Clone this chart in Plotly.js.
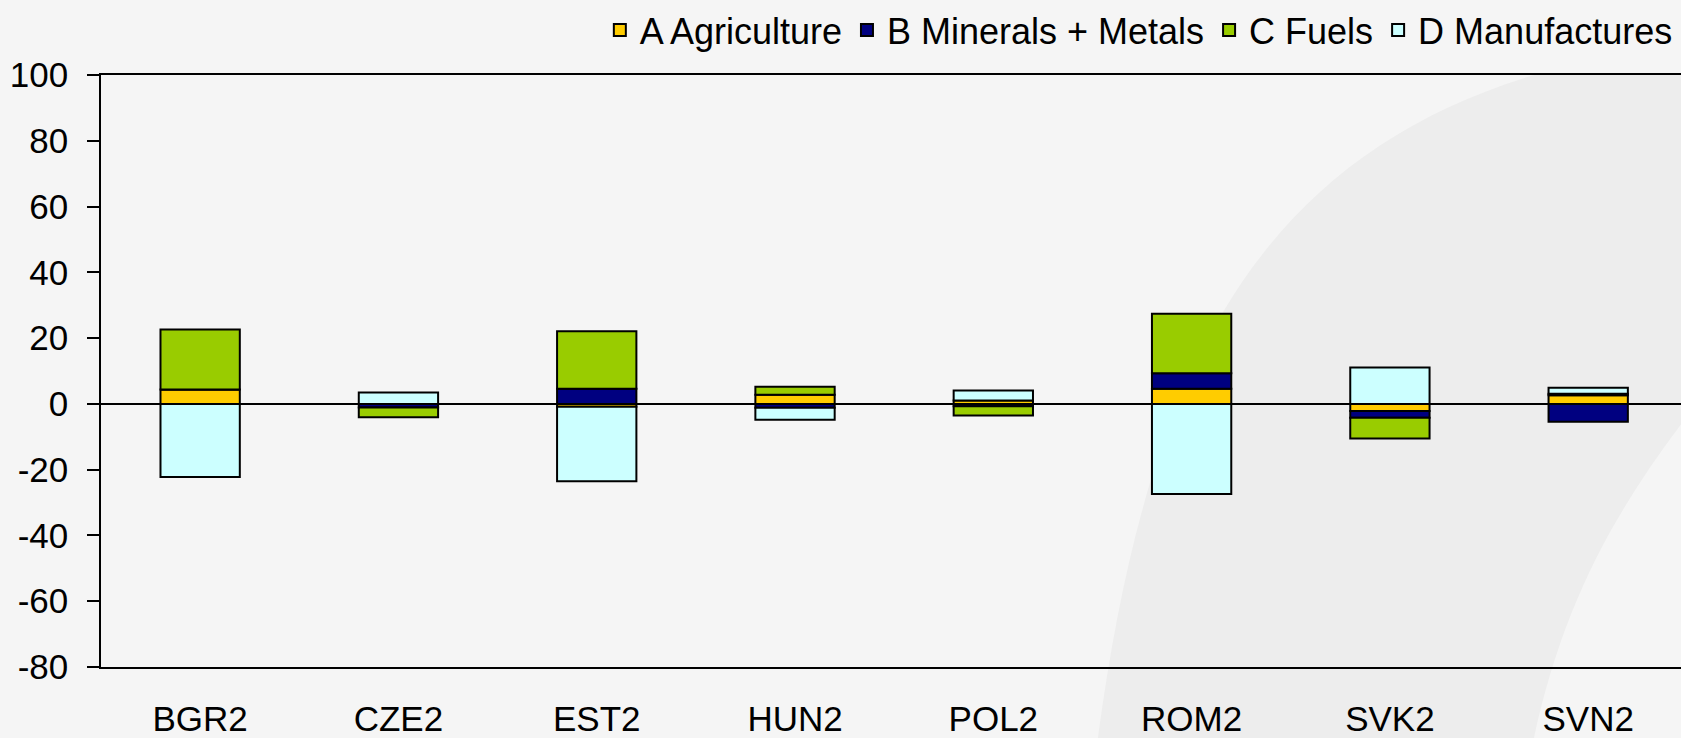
<!DOCTYPE html>
<html>
<head>
<meta charset="utf-8">
<script src="https://cdn.plot.ly/plotly-3.0.1.min.js"></script>
<style>
html,body{margin:0;padding:0;background:#f4f4f4;}
#chart{width:1681px;height:738px;}
</style>
</head>
<body>
<div id="chart"></div>
<script>
const categories = ["BGR2", "CZE2", "EST2", "HUN2", "POL2", "ROM2", "SVK2", "SVN2"];
const agriculture = [4.4, 0.0, -0.9, 2.8, 1.0, 4.6, -2.2, 2.6];
const mineralsMetals = [0.0, -1.1, 4.6, -1.2, -0.7, 4.7, -2.0, -5.4];
const fuels = [18.2, -3.0, 17.5, 2.4, -2.8, 18.1, -6.3, 0.5];
const manufactures = [-22.2, 3.5, -22.6, -3.6, 3.1, -27.4, 11.1, 1.8];
const seriesNames = ["A Agriculture", "B Minerals + Metals", "C Fuels", "D Manufactures"];
const seriesColors = ["#FFCC00", "#000080", "#99CC00", "#CCFFFF"];
const seriesValues = [agriculture, mineralsMetals, fuels, manufactures];
const yTicks = [100, 80, 60, 40, 20, 0, -20, -40, -60, -80];

const FONT = "Arial, 'Liberation Sans', sans-serif";

const traces = seriesValues.map((vals, i) => ({
  type: "bar",
  name: seriesNames[i],
  x: categories,
  y: vals,
  width: 0.4,
  marker: {color: seriesColors[i], line: {color: "#000000", width: 2}},
  hoverinfo: "x+y+name"
}));

// background swoosh (paper coordinates)
const swoosh = "M 0.631,-0.2 L 0.631,-0.1185 C 0.66,0.45 0.72,0.85 0.907,1.0 " +
  "L 1.0,1.0 L 1.0,0.41 C 0.955,0.25 0.925,0.1 0.907,-0.1185 L 0.907,-0.2 Z";

const layout = {
  width: 1681,
  height: 738,
  margin: {l: 101, r: 0, t: 74, b: 71, pad: 0},
  paper_bgcolor: "#f5f5f5",
  plot_bgcolor: "rgba(0,0,0,0)",
  barmode: "relative",
  font: {family: FONT, size: 35, color: "#000000"},
  showlegend: true,
  legend: {
    orientation: "h",
    x: 0.998, xanchor: "right",
    y: 1.076, yanchor: "middle",
    bgcolor: "rgba(0,0,0,0)",
    font: {family: FONT, size: 36, color: "#000000"},
    traceorder: "normal",
    itemclick: false
  },
  xaxis: {
    type: "category",
    range: [-0.5, 7.468],
    showline: true,
    linecolor: "#000000",
    linewidth: 1.5,
    mirror: true,
    ticks: "",
    showgrid: false,
    zeroline: false,
    tickfont: {family: FONT, size: 35, color: "#000000"},
    ticklabelstandoff: 20
  },
  yaxis: {
    range: [-80, 100],
    tickvals: yTicks,
    ticktext: yTicks.map(String),
    showline: true,
    linecolor: "#000000",
    linewidth: 1.5,
    ticks: "outside",
    ticklen: 12,
    tickwidth: 1.5,
    tickcolor: "#000000",
    showgrid: false,
    zeroline: true,
    zerolinecolor: "#000000",
    zerolinewidth: 1.5,
    tickfont: {family: FONT, size: 35, color: "#000000"},
    ticklabelstandoff: 12
  },
  shapes: [{
    type: "path",
    xref: "paper", yref: "paper",
    path: swoosh,
    fillcolor: "#ededed",
    line: {width: 0},
    layer: "below"
  }]
};

Plotly.newPlot("chart", traces, layout, {displayModeBar: false, staticPlot: false});
</script>
</body>
</html>
